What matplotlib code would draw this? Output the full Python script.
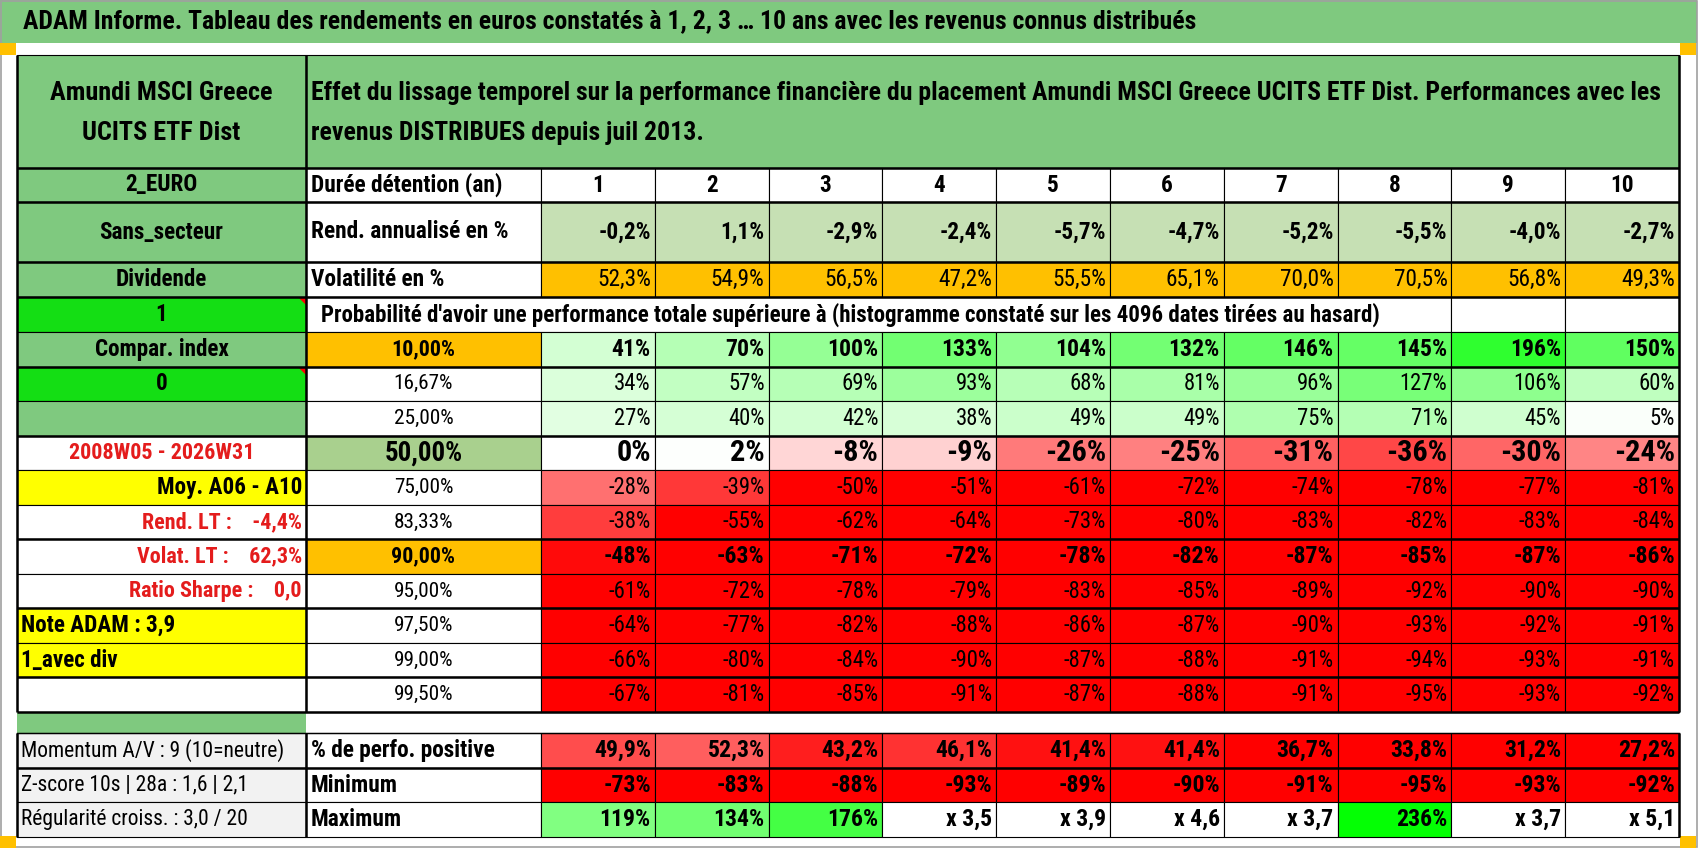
import matplotlib
matplotlib.use('Agg')
import matplotlib.pyplot as plt
from matplotlib import font_manager
from matplotlib.patches import Rectangle, Polygon
import numpy as np

# the sheet uses a narrow Calibri look, take a narrow font when there is one
available = {f.name for f in font_manager.fontManager.ttflist}
base_font = 'Lato'
for cand in ['Liberation Sans Narrow', 'Roboto Condensed', 'Lato']:
    if cand in available:
        base_font = cand
        break
plt.rcParams['font.family'] = [base_font, 'DejaVu Sans']

title = "ADAM Informe. Tableau des rendements en euros constatés à 1, 2, 3 … 10 ans avec les revenus connus distribués"
fund_name = ["Amundi MSCI Greece", "UCITS ETF Dist"]
intro_lines = ["Effet du lissage temporel sur la performance financière du placement Amundi MSCI Greece UCITS ETF Dist. Performances avec les",
               "revenus DISTRIBUES depuis juil 2013."]
prob_title = "Probabilité d'avoir une performance totale supérieure à (histogramme constaté sur les 4096 dates tirées au hasard)"
row_names = ["Durée détention (an)", "Rend. annualisé en %", "Volatilité en %"]
durations = [1, 2, 3, 4, 5, 6, 7, 8, 9, 10]
rend_annual = [-0.2, 1.1, -2.9, -2.4, -5.7, -4.7, -5.2, -5.5, -4.0, -2.7]
volatility = [52.3, 54.9, 56.5, 47.2, 55.5, 65.1, 70.0, 70.5, 56.8, 49.3]
quantiles = [10.0, 16.67, 25.0, 50.0, 75.0, 83.33, 90.0, 95.0, 97.5, 99.0, 99.5]
perf_q10 = [41, 70, 100, 133, 104, 132, 146, 145, 196, 150]
perf_q17 = [34, 57, 69, 93, 68, 81, 96, 127, 106, 60]
perf_q25 = [27, 40, 42, 38, 49, 49, 75, 71, 45, 5]
perf_q50 = [0, 2, -8, -9, -26, -25, -31, -36, -30, -24]
perf_q75 = [-28, -39, -50, -51, -61, -72, -74, -78, -77, -81]
perf_q83 = [-38, -55, -62, -64, -73, -80, -83, -82, -83, -84]
perf_q90 = [-48, -63, -71, -72, -78, -82, -87, -85, -87, -86]
perf_q95 = [-61, -72, -78, -79, -83, -85, -89, -92, -90, -90]
perf_q975 = [-64, -77, -82, -88, -86, -87, -90, -93, -92, -91]
perf_q99 = [-66, -80, -84, -90, -87, -88, -91, -94, -93, -91]
perf_q995 = [-67, -81, -85, -91, -87, -88, -91, -95, -93, -92]
pct_positive = [49.9, 52.3, 43.2, 46.1, 41.4, 41.4, 36.7, 33.8, 31.2, 27.2]
perf_min = [-73, -83, -88, -93, -89, -90, -91, -95, -93, -92]
perf_max = [119, 134, 176, 250, 290, 360, 270, 236, 270, 410]
side_labels = ["2_EURO", "Sans_secteur", "Dividende", "1", "Compar. index", "0", "",
               "2008W05 - 2026W31", "Moy. A06 - A10", "Rend. LT :    -4,4%", "Volat. LT :    62,3%",
               "Ratio Sharpe :    0,0", "Note ADAM : 3,9", "1_avec div", ""]
bottom_side = ["Momentum A/V : 9 (10=neutre)", "Z-score 10s | 28a : 1,6 | 2,1", "Régularité croiss. : 3,0 / 20"]
bottom_names = ["% de perfo. positive", "Minimum", "Maximum"]

perf_rows = [perf_q10, perf_q17, perf_q25, perf_q50, perf_q75, perf_q83,
             perf_q90, perf_q95, perf_q975, perf_q99, perf_q995]

GREEN = '#7FC97F'
BRIGHT = '#14DE14'
ORANGE = '#FFC000'
YELLOW = '#FFFF00'
LIGHTGREEN = '#C6E0B4'
MIDGREEN = '#A9D08E'
GRAY = '#F2F2F2'
RED_TXT = '#E41C1C'

side_fill = [GREEN, GREEN, GREEN, BRIGHT, GREEN, BRIGHT, GREEN, 'white', YELLOW,
             'white', 'white', 'white', YELLOW, YELLOW, 'white']
side_color = ['black'] * 7 + [RED_TXT, 'black', RED_TXT, RED_TXT, RED_TXT, 'black', 'black', 'black']
side_ha = ['center'] * 8 + ['right'] * 4 + ['left'] * 3


def fr(v, nd):
    return f"{v:.{nd}f}".replace('.', ',') + '%'


def heat(v):
    if v >= 0:
        t = min(v / 240.0, 1.0)
        return (1 - t, 1, 1 - t)
    t = min(-v / 50.0, 1.0)
    return (1, 1 - t, 1 - t)


def pos_color(v):
    t = float(np.clip((v - 39.0) / 36.0, 0, 1))
    return (1, t, t)


fig = plt.figure(figsize=(16.98, 8.48), dpi=100)
ax = fig.add_axes([0, 0, 1, 1])
ax.set_xlim(0, 1698)
ax.set_ylim(848, 0)
ax.axis('off')
renderer = fig.canvas.get_renderer()

x_left, x_mid, x_data = 17, 306, 541
x_right = 1679
col_x = np.linspace(x_data, x_right, len(durations) + 1)
head_y = [168, 202, 262, 297, 332]
q_y = np.linspace(332, 712, len(quantiles) + 1)
bot_y = np.linspace(733, 837, 4)
row_y = list(zip(head_y[:-1], head_y[1:])) + list(zip(q_y[:-1], q_y[1:]))


def size_for(sample, width, weight='normal'):
    # font size giving the sample string the pixel width seen in the sheet
    t = ax.text(0, 0, sample, fontsize=10, fontweight=weight)
    w = t.get_window_extent(renderer).width
    t.remove()
    return 10 * width / w


def cell(x0, x1, y0, y1, fc, lw=0.8):
    ax.add_patch(Rectangle((x0, y0), x1 - x0, y1 - y0, facecolor=fc, edgecolor='black', linewidth=lw))


def txt(x, y, s, size, ha='center', weight='normal', color='black'):
    return ax.text(x, y, s, fontsize=size, ha=ha, va='center', fontweight=weight, color=color)


fs_title = size_for(title, 1175, 'bold')
fs_fund = size_for(fund_name[0], 222, 'bold')
fs_intro = size_for(intro_lines[0], 1346, 'bold')
fs_prob = size_for(prob_title, 1060, 'bold')
fs_label = size_for(row_names[0], 191, 'bold')
fs_side = size_for("Compar. index", 134, 'bold')
fs_red = size_for("2008W05 - 2026W31", 186, 'bold')
fs_gray = size_for(bottom_side[0], 262)
fs_qlab = size_for("16,67%", 59)
fs_qlab_b = size_for("10,00%", 64, 'bold')
fs_qlab_50 = size_for("50,00%", 78, 'bold')
fs_head = fs_label
fs_rend = fs_label
fs_vol = fs_label
fs_val = fs_label * 0.97
fs_q10 = fs_label * 1.02
fs_q50 = fs_label * 1.3
fs_bot = fs_label * 1.02

# frame and title band
ax.add_patch(Rectangle((0, 0), 1697, 43, facecolor=GREEN, edgecolor='none'))
ax.add_patch(Rectangle((0.5, 0.5), 1696.5, 846, facecolor='none', edgecolor='#A0A0A0', linewidth=1.2))
for mx, my in [(0, 43), (1680, 43), (0, 836), (1680, 836)]:
    ax.add_patch(Rectangle((mx, my), 16, 12, facecolor=ORANGE, edgecolor='none'))
txt(23, 21, title, fs_title, ha='left', weight='bold')

# merged header
cell(x_left, x_mid, 55, 168, GREEN)
cell(x_mid, x_right, 55, 168, GREEN)
txt((x_left + x_mid) / 2, 93, fund_name[0], fs_fund, weight='bold')
txt((x_left + x_mid) / 2, 133, fund_name[1], fs_fund, weight='bold')
txt(311, 93, intro_lines[0], fs_intro, ha='left', weight='bold')
txt(311, 133, intro_lines[1], fs_intro, ha='left', weight='bold')

# first column
for i, (y0, y1) in enumerate(row_y):
    cell(x_left, x_mid, y0, y1, side_fill[i])
    if side_ha[i] == 'center':
        x = (x_left + x_mid) / 2
    elif side_ha[i] == 'right':
        x = x_mid - 4
    else:
        x = x_left + 4
    fs = fs_red if side_color[i] == RED_TXT else fs_side
    txt(x, (y0 + y1) / 2, side_labels[i], fs, ha=side_ha[i], weight='bold', color=side_color[i])
for yy in [297, 367]:
    ax.add_patch(Polygon([[x_mid - 8, yy], [x_mid, yy], [x_mid, yy + 8]], closed=True, facecolor='red', edgecolor='none'))

# header rows
(h0, h1), (r0, r1), (v0, v1) = row_y[:3]
for (y0, y1), name in zip(row_y[:3], row_names):
    cell(x_mid, x_data, y0, y1, 'white')
    txt(311, (y0 + y1) / 2, name, fs_label, ha='left', weight='bold')
for j in range(len(durations)):
    xa, xb = col_x[j], col_x[j + 1]
    cell(xa, xb, h0, h1, 'white')
    txt((xa + xb) / 2, (h0 + h1) / 2, str(durations[j]), fs_head, weight='bold')
    cell(xa, xb, r0, r1, LIGHTGREEN)
    txt(xb - 4, (r0 + r1) / 2, fr(rend_annual[j], 1), fs_rend, ha='right', weight='bold')
    cell(xa, xb, v0, v1, ORANGE)
    txt(xb - 4, (v0 + v1) / 2, fr(volatility[j], 1), fs_vol, ha='right')

# probability title row
cell(x_mid, col_x[8], 297, 332, 'white')
cell(col_x[8], col_x[9], 297, 332, 'white')
cell(col_x[9], col_x[10], 297, 332, 'white')
txt(321, 314.5, prob_title, fs_prob, ha='left', weight='bold')

# quantile rows
for i, q in enumerate(quantiles):
    y0, y1 = q_y[i], q_y[i + 1]
    yc = (y0 + y1) / 2
    if q == 50.0:
        qfill, qw, qs, vs = MIDGREEN, 'bold', fs_qlab_50, fs_q50
    elif q in (10.0, 90.0):
        qfill, qw, qs, vs = ORANGE, 'bold', fs_qlab_b, fs_q10
    else:
        qfill, qw, qs, vs = 'white', 'normal', fs_qlab, fs_val
    cell(x_mid, x_data, y0, y1, qfill)
    txt((x_mid + x_data) / 2, yc, fr(q, 2), qs, weight=qw)
    for j, v in enumerate(perf_rows[i]):
        xa, xb = col_x[j], col_x[j + 1]
        cell(xa, xb, y0, y1, heat(v))
        txt(xb - 4, yc, f"{v}%", vs, ha='right', weight=qw)

# gap row
ax.add_patch(Rectangle((x_left, 712), x_mid - x_left, 733 - 712, facecolor=GREEN, edgecolor='none'))
ax.plot([x_left, x_right], [733, 733], color='black', lw=1)

# bottom block
for i in range(3):
    y0, y1 = bot_y[i], bot_y[i + 1]
    yc = (y0 + y1) / 2
    cell(x_left, x_mid, y0, y1, GRAY)
    txt(x_left + 4, yc, bottom_side[i], fs_gray, ha='left')
    cell(x_mid, x_data, y0, y1, 'white')
    txt(311, yc, bottom_names[i], fs_label, ha='left', weight='bold')
for j in range(len(durations)):
    xa, xb = col_x[j], col_x[j + 1]
    y = bot_y
    cell(xa, xb, y[0], y[1], pos_color(pct_positive[j]))
    txt(xb - 4, (y[0] + y[1]) / 2, fr(pct_positive[j], 1), fs_bot, ha='right', weight='bold')
    cell(xa, xb, y[1], y[2], heat(perf_min[j]))
    txt(xb - 4, (y[1] + y[2]) / 2, f"{perf_min[j]}%", fs_bot, ha='right', weight='bold')
    m = perf_max[j]
    if m >= 250:
        cell(xa, xb, y[2], y[3], 'white')
        lab = "x " + f"{1 + m / 100:.1f}".replace('.', ',')
    else:
        cell(xa, xb, y[2], y[3], heat(m))
        lab = f"{m}%"
    txt(xb - 4, (y[2] + y[3]) / 2, lab, fs_bot, ha='right', weight='bold')

# heavier separators
for yy in [168, 202, 262, 297, 367, 436, 539, 608, 677, 712, 768]:
    ax.plot([x_left, x_right], [yy, yy], color='black', lw=1.8, solid_capstyle='butt')
for xx in [x_left, x_mid, x_right]:
    ax.plot([xx, xx], [55, 712], color='black', lw=1.8, solid_capstyle='butt')
    ax.plot([xx, xx], [733, 837], color='black', lw=1.8, solid_capstyle='butt')

fig.savefig('out.png', dpi=100)
